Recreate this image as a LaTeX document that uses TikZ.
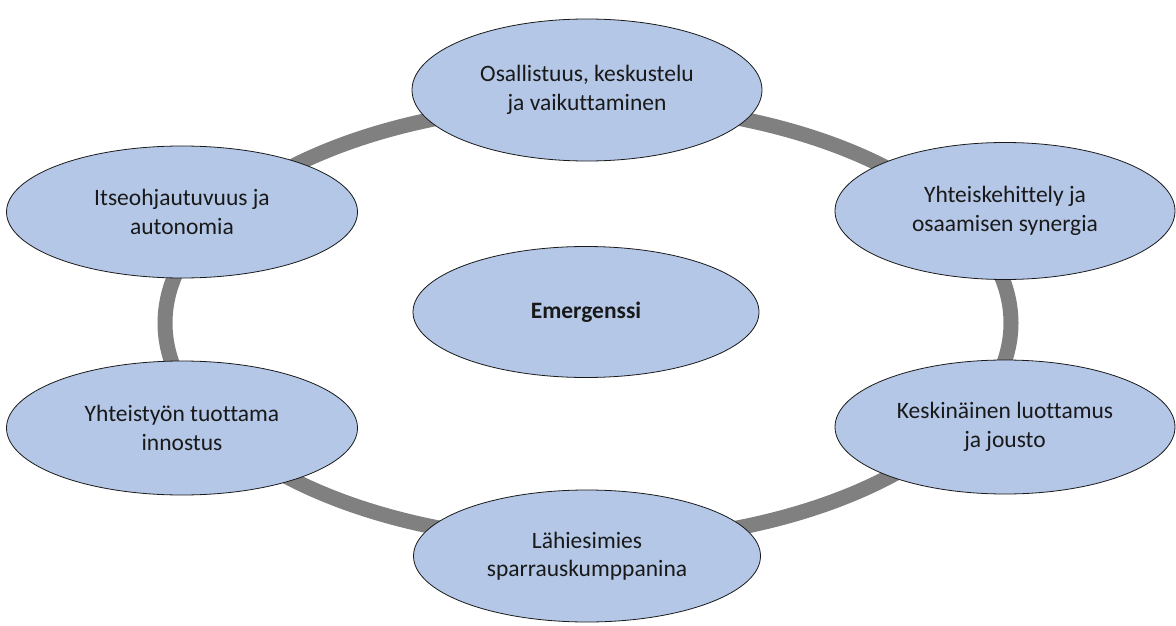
\documentclass[tikz,border=0pt]{standalone}
\usepackage{fontspec}
\setmainfont[Ligatures=NoCommon]{Carlito}
\usetikzlibrary{shapes.geometric}
\definecolor{bubblefill}{HTML}{B4C7E7}
\definecolor{bubbleline}{HTML}{1A1A1A}
\definecolor{ringgray}{HTML}{808080}
\begin{document}
\begin{tikzpicture}[x=1pt,y=-1pt,
  bubble/.style={ellipse, draw=bubbleline, line width=0.8pt, fill=bubblefill,
    inner sep=0pt, align=center, text=black!90,
    font=\fontsize{23.5}{28.5}\selectfont},
  ring/.style={draw=ringgray, line width=15pt}]
  \useasboundingbox[fill=white] (0,0) rectangle (1176,626);
  % grey ring linking the six outer ideas
  \coordinate (ringc) at (588,323);
  \draw[ring] (ringc) ellipse [x radius=423pt, y radius=219pt];
  % outer ideas
  \node[bubble, minimum width=350pt, minimum height=142pt] (top) at (587,90)
    {Osallistuus, keskustelu\\ja vaikuttaminen};
  \node[bubble, minimum width=351pt, minimum height=132pt] (lu) at (182,212)
    {Itseohjautuvuus ja\\autonomia};
  \node[bubble, minimum width=340pt, minimum height=137pt] (ru) at (1005,211)
    {Yhteiskehittely ja\\osaamisen synergia};
  \node[bubble, minimum width=351pt, minimum height=134pt] (ll) at (182,428)
    {Yhteistyön tuottama\\innostus};
  \node[bubble, minimum width=340pt, minimum height=134pt] (rl) at (1005,427)
    {Keskinäinen luottamus\\ja jousto};
  \node[bubble, minimum width=347pt, minimum height=132pt] (bot) at (587,556)
    {Lähiesimies\\sparrauskumppanina};
  % central idea
  \node[bubble, minimum width=346pt, minimum height=131pt, font=\fontsize{23.5}{28.5}\selectfont\bfseries] (mid) at (586,312)
    {Emergenssi};
\end{tikzpicture}
\end{document}
